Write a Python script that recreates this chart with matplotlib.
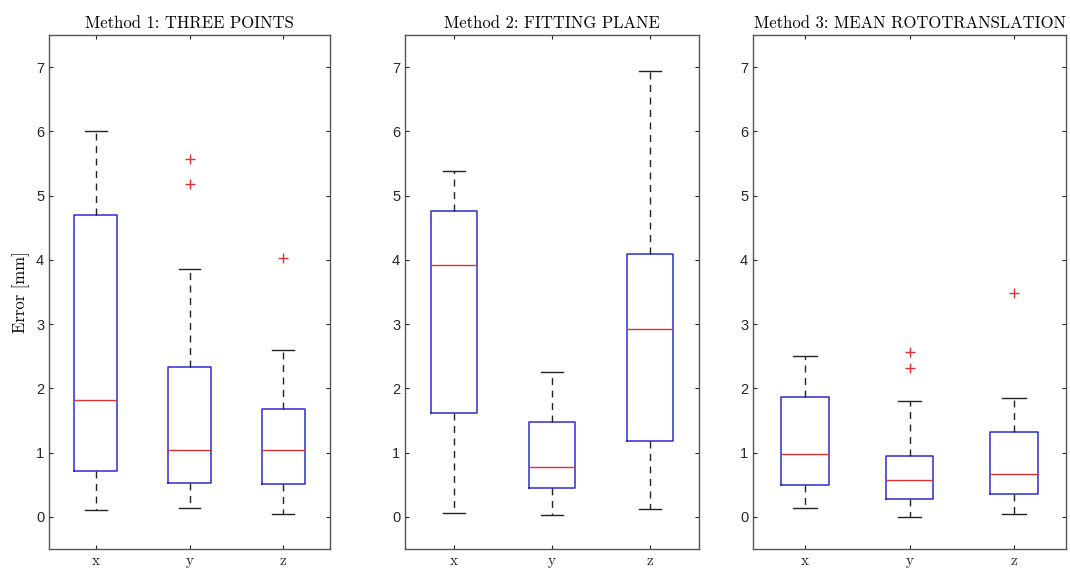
import numpy as np
import matplotlib
matplotlib.use("Agg")
import matplotlib.pyplot as plt

# Error statistics per axis (x, y, z) for the three registration methods
axes_labels = ["x", "y", "z"]
titles = ["Method 1: THREE POINTS", "Method 2: FITTING PLANE",
          "Method 3: MEAN ROTOTRANSLATION"]

# each row: [whisker low, q1, median, q3, whisker high]
m1_stats = [[0.10, 0.72, 1.82, 4.70, 6.00],
            [0.14, 0.53, 1.04, 2.33, 3.86],
            [0.04, 0.51, 1.04, 1.68, 2.60]]
m1_fliers = [[], [5.57, 5.18], [4.03]]

m2_stats = [[0.06, 1.61, 3.92, 4.76, 5.39],
            [0.03, 0.45, 0.78, 1.47, 2.25],
            [0.13, 1.18, 2.93, 4.09, 6.94]]
m2_fliers = [[], [], []]

m3_stats = [[0.14, 0.49, 0.98, 1.86, 2.50],
            [0.00, 0.28, 0.58, 0.95, 1.81],
            [0.04, 0.36, 0.66, 1.32, 1.85]]
m3_fliers = [[], [2.57, 2.32], [3.49]]

all_stats = [m1_stats, m2_stats, m3_stats]
all_fliers = [m1_fliers, m2_fliers, m3_fliers]

W, H = 1070, 569
# panel frames in pixels: left, right (top/bottom shared)
frames = [(49, 330), (405, 699), (753, 1066)]
top_px, bot_px = 35, 549

serif = "cmr10"
tick_col = "#262626"

fig = plt.figure(figsize=(W / 100, H / 100), dpi=100)

for k, (stats, fliers, title) in enumerate(zip(all_stats, all_fliers, titles)):
    l, r = frames[k]
    ax = fig.add_axes([l / W, 1 - bot_px / H, (r - l) / W, (bot_px - top_px) / H])
    bxp_data = []
    for lab, s, f in zip(axes_labels, stats, fliers):
        bxp_data.append({"label": lab, "whislo": s[0], "q1": s[1], "med": s[2],
                         "q3": s[3], "whishi": s[4], "fliers": f})
    ax.bxp(bxp_data, positions=[1, 2, 3], widths=0.46, capwidths=0.23,
           boxprops=dict(color="#2b2bd6", linewidth=1.1),
           medianprops=dict(color="#e03030", linewidth=1.0),
           whiskerprops=dict(color="#222222", linewidth=1.0, linestyle=(0, (5, 4))),
           capprops=dict(color="#222222", linewidth=1.0),
           flierprops=dict(marker="+", markeredgecolor="#e03030", markersize=7,
                           markeredgewidth=1.0, linestyle="none"))
    ax.set_xlim(0.5, 3.5)
    ax.set_ylim(-0.5, 7.5)
    ax.set_yticks(np.arange(0, 8))
    ax.set_xticks([1, 2, 3])
    ax.set_xticklabels(axes_labels, fontfamily=serif, fontsize=11)
    for t in ax.get_yticklabels():
        t.set_fontfamily("Liberation Sans")
        t.set_fontsize(10.5)
    ax.tick_params(direction="in", top=True, right=True, length=3,
                   colors=tick_col, width=0.8)
    for sp in ax.spines.values():
        sp.set_color("#555555")
        sp.set_linewidth(1.0)
    ax.set_title(title, fontfamily=serif, fontsize=12, pad=5)
    if k == 0:
        ax.set_ylabel("Error [mm]", fontfamily=serif, fontsize=12, labelpad=4)

fig.savefig("out.png", dpi=100)
